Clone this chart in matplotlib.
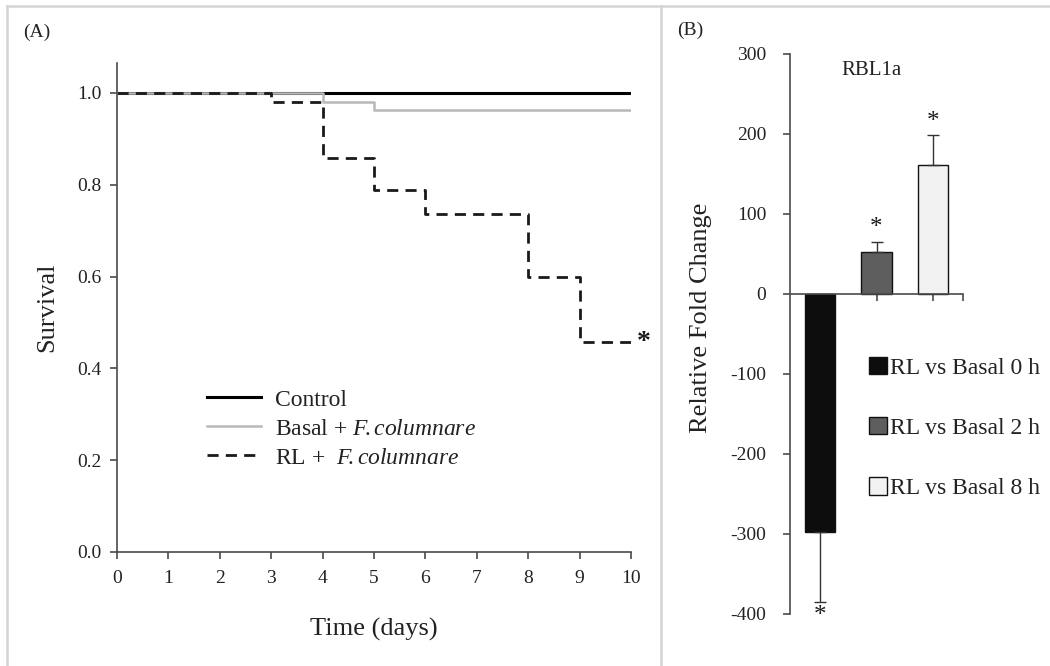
import matplotlib
matplotlib.use("Agg")
import matplotlib.pyplot as plt
from matplotlib.lines import Line2D
from matplotlib.patches import Patch

plt.rcParams['font.family'] = ['Liberation Serif', 'DejaVu Serif']
plt.rcParams['mathtext.fontset'] = 'custom'
plt.rcParams['mathtext.rm'] = 'Liberation Serif'
plt.rcParams['mathtext.it'] = 'Liberation Serif:italic'
plt.rcParams['axes.unicode_minus'] = False

# ---------------- data ----------------
control_t = [0, 10]
control_s = [1.0, 1.0]
basal_t = [0, 4, 5, 10]
basal_s = [1.0, 0.98, 0.962, 0.962]
rl_t = [0, 3, 4, 5, 6, 8, 9, 10]
rl_s = [1.0, 0.98, 0.858, 0.789, 0.737, 0.599, 0.457, 0.457]
series_labels = ['Control', 'Basal + $\\mathit{F\\!.columnare}$',
                 'RL +  $\\mathit{F\\!.columnare}$']
x_ticks_a = [0, 1, 2, 3, 4, 5, 6, 7, 8, 9, 10]
y_ticks_a = [0.0, 0.2, 0.4, 0.6, 0.8, 1.0]

bar_labels = ['RL vs Basal 0 h', 'RL vs Basal 2 h', 'RL vs Basal 8 h']
bar_values = [-298, 53, 161]
bar_errors = [87, 12, 38]
star_values = [-402, 82, 215]
y_ticks_b = [-400, -300, -200, -100, 0, 100, 200, 300]

W, H = 1050, 666
fig = plt.figure(figsize=(W / 100, H / 100), dpi=100)

def fx(px):
    return px / W

def fy(py):
    return 1 - py / H

axis_col = '#4a4a4a'
text_col = '#222222'

# ---------------- panel A ----------------
axA = fig.add_axes([fx(117), fy(552), fx(631) - fx(117), fy(63) - fy(552)])
axA.step(control_t, control_s, where='post', color='black', lw=2.2, zorder=2)
axA.step(basal_t, basal_s, where='post', color='#b8b8b8', lw=1.8, zorder=3)
axA.step(rl_t, rl_s, where='post', color='#1a1a1a', lw=2.0, dashes=(4, 2.6), zorder=4)
axA.text(10.12, rl_s[-1], '*', fontsize=20, fontweight='bold', ha='left', va='center',
         color='#1a1a1a')
axA.set_xlim(0, 10)
axA.set_ylim(0, 1.065)
axA.set_xticks(x_ticks_a)
axA.set_yticks(y_ticks_a)
axA.set_yticklabels([f'{v:.1f}' for v in y_ticks_a])
for s in ['top', 'right']:
    axA.spines[s].set_visible(False)
for s in ['left', 'bottom']:
    axA.spines[s].set_color(axis_col)
    axA.spines[s].set_linewidth(1.2)
axA.tick_params(axis='both', direction='out', length=5, width=1.2, color=axis_col,
                labelsize=14, labelcolor=text_col)
axA.tick_params(axis='x', pad=8)
axA.tick_params(axis='y', pad=6)
axA.set_xlabel('Time (days)', fontsize=19, color=text_col, labelpad=22)
axA.set_ylabel('Survival', fontsize=19, color=text_col, labelpad=14)
handlesA = [Line2D([], [], color='black', lw=2.2),
            Line2D([], [], color='#b8b8b8', lw=1.8),
            Line2D([], [], color='#1a1a1a', lw=2.0, dashes=(4, 2.6))]
legA = axA.legend(handlesA, series_labels, loc='upper left',
                  bbox_to_anchor=(fx(207), fy(389)), bbox_transform=fig.transFigure,
                  frameon=False, fontsize=17, handlelength=2.3, handletextpad=0.6,
                  labelspacing=0.32, borderpad=0, borderaxespad=0)
for t in legA.get_texts():
    t.set_color(text_col)

# ---------------- panel B ----------------
axB = fig.add_axes([fx(790), fy(614), fx(963) - fx(790), fy(54) - fy(614)])
xpos = [1, 2, 3]
colors = ['#0d0d0d', '#5e5e5e', '#f2f2f2']
lower = [e if v < 0 else 0 for v, e in zip(bar_values, bar_errors)]
upper = [e if v > 0 else 0 for v, e in zip(bar_values, bar_errors)]
axB.bar(xpos, bar_values, width=0.53, color=colors, edgecolor='#111111', linewidth=1.0,
        yerr=[lower, upper], error_kw=dict(ecolor='#333333', elinewidth=1.0, capsize=4,
                                           capthick=1.0), zorder=2)
for x, s in zip(xpos, star_values):
    axB.text(x, s, '*', fontsize=18, ha='center', va='center', color='#1a1a1a')
axB.text(0.47, 0.97, 'RBL1a', transform=axB.transAxes, fontsize=15, color=text_col,
         ha='center', va='center')
axB.set_xlim(0.48, 3.52)
axB.set_ylim(-400, 300)
axB.set_yticks(y_ticks_b)
axB.set_xticks([1, 2, 3, 3.52])
axB.set_xticklabels([])
axB.spines['bottom'].set_position(('data', 0))
for s in ['top', 'right']:
    axB.spines[s].set_visible(False)
for s in ['left', 'bottom']:
    axB.spines[s].set_color(axis_col)
    axB.spines[s].set_linewidth(1.2)
axB.tick_params(axis='both', direction='out', length=5, width=1.2, color=axis_col,
                labelsize=14, labelcolor=text_col)
axB.tick_params(axis='y', pad=12)
fig.text(fx(701), fy(318), 'Relative Fold Change', rotation=90, fontsize=19,
         color=text_col, ha='center', va='center')
handlesB = [Patch(facecolor=c, edgecolor='#111111', linewidth=1.0) for c in colors]
legB = fig.legend(handlesB, bar_labels, loc='upper left',
                  bbox_to_anchor=(fx(869), fy(357)), frameon=False, fontsize=17,
                  handlelength=0.75, handleheight=0.75, handletextpad=0.15,
                  labelspacing=1.62, borderpad=0, borderaxespad=0)
for t in legB.get_texts():
    t.set_color(text_col)

# ---------------- panel letters and frame ----------------
fig.text(fx(37), fy(32), '(A)', fontsize=14, color=text_col, ha='center', va='center')
fig.text(fx(690), fy(30), '(B)', fontsize=14, color=text_col, ha='center', va='center')
frame_col = '#d4d4d4'
fig.add_artist(Line2D([fx(7), 1], [fy(6), fy(6)], color=frame_col, lw=1.8,
                      transform=fig.transFigure))
fig.add_artist(Line2D([fx(7), fx(7)], [fy(6), 0], color=frame_col, lw=1.8,
                      transform=fig.transFigure))
fig.add_artist(Line2D([fx(661), fx(661)], [fy(6), 0], color=frame_col, lw=1.8,
                      transform=fig.transFigure))

fig.savefig('out.png', dpi=100)
